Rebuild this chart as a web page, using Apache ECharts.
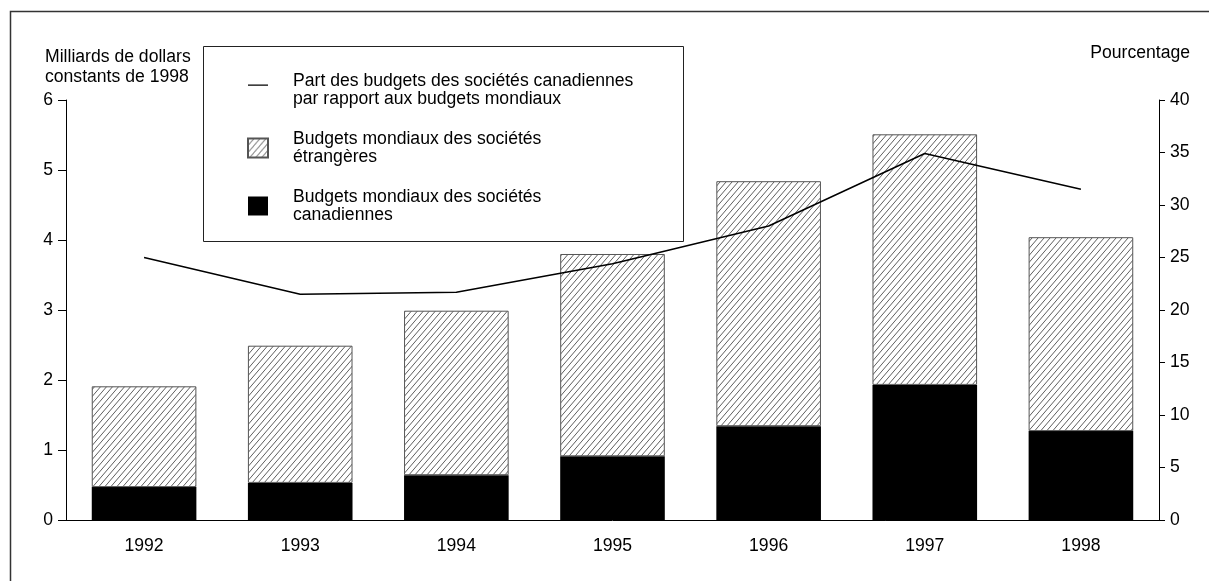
<!DOCTYPE html>
<html>
<head>
<meta charset="utf-8">
<script src="https://cdn.jsdelivr.net/npm/echarts@6/dist/echarts.min.js"></script>
<style>
html,body{margin:0;padding:0;background:#fff;}
#chart{width:1209px;height:581px;}
</style>
</head>
<body>
<div id="chart"></div>
<script>
const categories = ['1992','1993','1994','1995','1996','1997','1998'];
const canadianBudgets = [0.47, 0.53, 0.64, 0.91, 1.34, 1.93, 1.27];
const foreignBudgets = [1.44, 1.96, 2.35, 2.89, 3.50, 3.58, 2.77];
const canadianShare = [25.0, 21.5, 21.7, 24.4, 28.0, 34.9, 31.5];
const leftTicks = [0, 6, 1];
const rightTicks = [0, 40, 5];

const nameLine = 'Part des budgets des sociétés canadiennes\npar rapport aux budgets mondiaux';
const nameForeign = 'Budgets mondiaux des sociétés\nétrangères';
const nameCanadian = 'Budgets mondiaux des sociétés\ncanadiennes';

const FONT = '"Liberation Sans", Arial, sans-serif';
const FS = 17.6;

// hatch pattern
const TW = 6, TH = 7;
const tile = document.createElement('canvas');
tile.width = TW; tile.height = TH;
const ctx = tile.getContext('2d');
ctx.fillStyle = '#fff';
ctx.fillRect(0, 0, TW, TH);
ctx.strokeStyle = '#333';
ctx.lineWidth = 0.8;
for (let k = -1; k <= 1; k++) {
  ctx.beginPath();
  ctx.moveTo(k * TW, TH);
  ctx.lineTo(k * TW + TW, 0);
  ctx.stroke();
}

const chart = echarts.init(document.getElementById('chart'), null, {renderer: 'canvas'});
chart.setOption({
  backgroundColor: '#fff',
  animation: false,
  textStyle: {fontFamily: FONT, fontSize: FS, color: '#000'},
  grid: {left: 66, right: 50, top: 100, bottom: 61},
  graphic: [
    {type: 'rect', shape: {x: 10.5, y: 11.5, width: 1400, height: 800}, style: {fill: 'none', stroke: '#333', lineWidth: 1.5}, z: 0},
    {type: 'rect', shape: {x: 203.5, y: 46.5, width: 480, height: 195}, style: {fill: '#fff', stroke: '#222', lineWidth: 1}, z: 1},
    {type: 'text', left: 45, top: 47, style: {text: 'Milliards de dollars\nconstants de 1998', font: FS + 'px ' + FONT, fill: '#000', lineHeight: 20}},
    {type: 'text', right: 19, top: 44, style: {text: 'Pourcentage', font: FS + 'px ' + FONT, fill: '#000'}}
  ],
  legend: {
    orient: 'vertical',
    left: 247,
    top: 72,
    padding: 0,
    itemGap: 22,
    itemWidth: 20,
    itemHeight: 19,
    z: 5,
    data: [
      {name: nameLine, icon: 'path://M0,0 L0,0.01 Z M0,4 L20,4 L20,5.3 L0,5.3 Z M0,19 L0,18.99 Z', itemStyle: {color: '#000', borderWidth: 0}},
      {name: nameForeign, icon: 'rect'},
      {name: nameCanadian, icon: 'rect'}
    ],
    textStyle: {fontFamily: FONT, fontSize: FS, color: '#000', lineHeight: 18, padding: [0, 0, 0, 20]}
  },
  xAxis: {
    type: 'category',
    data: categories,
    axisLine: {lineStyle: {color: '#000', width: 1}},
    axisTick: {show: false},
    axisLabel: {margin: 17, fontSize: FS, color: '#000', fontFamily: FONT}
  },
  yAxis: [
    {
      type: 'value', min: leftTicks[0], max: leftTicks[1], interval: leftTicks[2],
      axisLine: {show: true, lineStyle: {color: '#000', width: 1}},
      axisTick: {show: true, length: 8, lineStyle: {color: '#000'}},
      axisLabel: {margin: 13, fontSize: FS, color: '#000', fontFamily: FONT},
      splitLine: {show: false}
    },
    {
      type: 'value', position: 'right', min: rightTicks[0], max: rightTicks[1], interval: rightTicks[2],
      axisLine: {show: true, lineStyle: {color: '#000', width: 1}},
      axisTick: {show: true, length: 6, lineStyle: {color: '#000'}},
      axisLabel: {margin: 11, fontSize: FS, color: '#000', fontFamily: FONT},
      splitLine: {show: false}
    }
  ],
  series: [
    {
      name: nameCanadian, type: 'bar', stack: 'total', barWidth: '67%',
      data: canadianBudgets,
      itemStyle: {color: '#000', borderColor: '#000', borderWidth: 0}
    },
    {
      name: nameForeign, type: 'bar', stack: 'total', barWidth: '67%',
      data: foreignBudgets,
      itemStyle: {color: {image: tile, repeat: 'repeat'}, borderColor: '#555', borderWidth: 1}
    },
    {
      name: nameLine, type: 'line', yAxisIndex: 1, symbol: 'none', showSymbol: false, z: 4,
      data: canadianShare,
      lineStyle: {color: '#000', width: 1.5},
      itemStyle: {color: '#000'}
    }
  ]
});
</script>
</body>
</html>
